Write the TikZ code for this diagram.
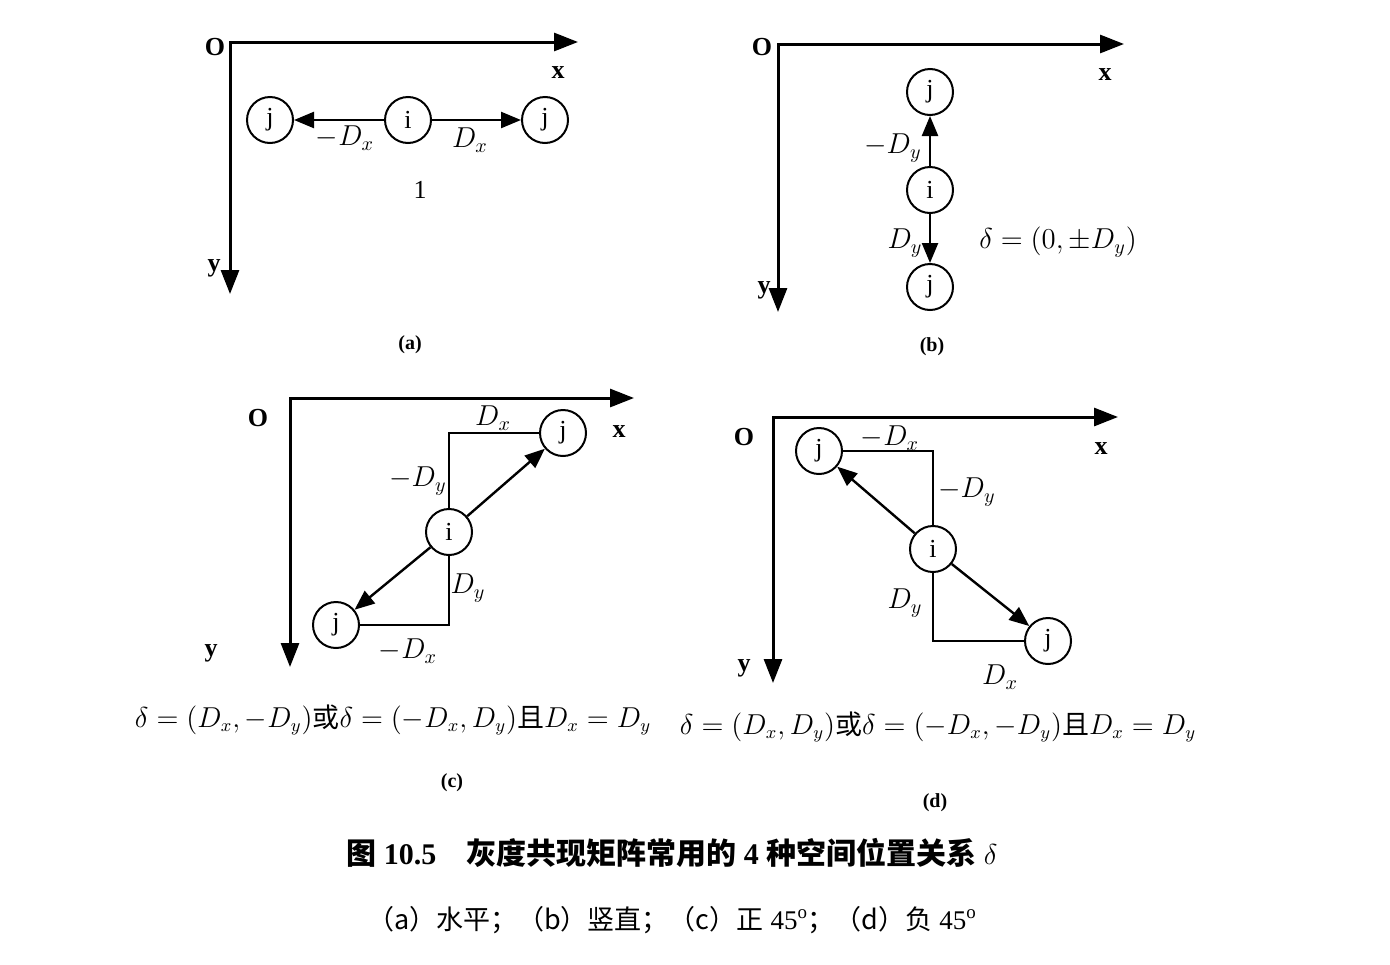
\documentclass[tikz,border=0pt]{standalone}
\usepackage{fontspec}
\setmainfont{Liberation Serif}
\newfontfamily\cjk{Noto Sans CJK SC}
\usetikzlibrary{arrows.meta}

\begin{document}
\begin{tikzpicture}[x=0.5pt,y=-0.5pt,
  every node/.style={font=\fontsize{13}{15}\selectfont},
  pix/.style={draw,circle,line width=1pt,minimum size=23pt,inner sep=0pt},
  axis/.style={line width=1.5pt,{Triangle[length=12pt,width=9pt]}-{Triangle[length=12pt,width=9pt]}},
  link/.style={line width=1.2pt,-{Triangle[length=10pt,width=8pt]}},
  leg/.style={line width=1.2pt},
  ax/.style={font=\fontsize{13}{15}\selectfont\bfseries},
  lbl/.style={font=\fontsize{14}{16}\selectfont},
  eqn/.style={font=\fontsize{13.5}{16}\selectfont},
  sub/.style={font=\fontsize{10}{12}\selectfont\bfseries},
  captxt/.style={font=\fontsize{15}{18}\selectfont},
  parttxt/.style={font=\fontsize{13.5}{16}\selectfont}]
\useasboundingbox (0,0) rectangle (1390,964);

% (a) horizontal
\coordinate (aO) at (230,42);
\coordinate (aX) at (578,42);
\coordinate (aY) at (230,294);
\draw[axis] (aX) -- (aO) -- (aY);
\node[ax] (aOl) at (215,47) {O};
\node[ax] (axl) at (558,73) {x};
\node[ax] (ayl) at (214,268) {y};
\node[pix] (ai) at (408,120) {i};
\node[pix] (aj1) at (270,120) {j};
\node[pix] (aj2) at (545,120) {j};
\draw[link] (ai) -- (aj1);
\draw[link] (ai) -- (aj2);
\node[lbl] (adxm) at (345,138) {$-D_x$};
\node[lbl] (adx) at (470,140) {$D_x$};
\node (aone) at (420,190) {1};
\node[sub] (acap) at (410,345) {(a)};

% (b) vertical
\coordinate (bO) at (778,44);
\coordinate (bX) at (1124,44);
\coordinate (bY) at (778,312);
\draw[axis] (bX) -- (bO) -- (bY);
\node[ax] (bOl) at (762,47) {O};
\node[ax] (bxl) at (1105,75) {x};
\node[ax] (byl) at (764,290) {y};
\node[pix] (bi) at (930,190) {i};
\node[pix] (bj1) at (930,92) {j};
\node[pix] (bj2) at (930,287) {j};
\draw[link] (bi) -- (bj1);
\draw[link] (bi) -- (bj2);
\node[lbl] (bdym) at (893,148) {$-D_y$};
\node[lbl] (bdy) at (905,243) {$D_y$};
\node[lbl] (beq) at (1058,242) {$\delta=(0,\pm D_y)$};
\node[sub] (bcap) at (932,347) {(b)};

% (c) +45
\coordinate (cO) at (290,398);
\coordinate (cX) at (634,398);
\coordinate (cY) at (290,667);
\draw[axis] (cX) -- (cO) -- (cY);
\node[ax] (cOl) at (258,418) {O};
\node[ax] (cxl) at (619,432) {x};
\node[ax] (cyl) at (211,653) {y};
\node[pix] (ci) at (449,532) {i};
\node[pix] (cj1) at (563,433) {j};
\node[pix] (cj2) at (336,625) {j};
\draw[leg] (ci) |- (cj1);
\draw[leg] (ci) |- (cj2);
\draw[link] (ci) -- (cj1);
\draw[link] (ci) -- (cj2);
\node[lbl] (cdx) at (493,418) {$D_x$};
\node[lbl] (cdym) at (418,481) {$-D_y$};
\node[lbl] (cdy) at (468,588) {$D_y$};
\node[lbl] (cdxm) at (408,651) {$-D_x$};
\node[eqn] (ceq) at (393,720) {$\delta=(D_x,-D_y)${\cjk 或}$\delta=(-D_x,D_y)${\cjk 且}$D_x=D_y$};
\node[sub] (ccap) at (452,783) {(c)};

% (d) -45
\coordinate (dO) at (773,417);
\coordinate (dX) at (1118,417);
\coordinate (dY) at (773,683);
\draw[axis] (dX) -- (dO) -- (dY);
\node[ax] (dOl) at (744,437) {O};
\node[ax] (dxl) at (1101,449) {x};
\node[ax] (dyl) at (744,668) {y};
\node[pix] (di) at (933,549) {i};
\node[pix] (dj1) at (819,451) {j};
\node[pix] (dj2) at (1048,641) {j};
\draw[leg] (di) |- (dj1);
\draw[leg] (di) |- (dj2);
\draw[link] (di) -- (dj1);
\draw[link] (di) -- (dj2);
\node[lbl] (ddxm) at (890,438) {$-D_x$};
\node[lbl] (ddym) at (967,492) {$-D_y$};
\node[lbl] (ddy) at (905,603) {$D_y$};
\node[lbl] (ddx) at (1000,677) {$D_x$};
\node[eqn] (deq) at (938,727) {$\delta=(D_x,D_y)${\cjk 或}$\delta=(-D_x,-D_y)${\cjk 且}$D_x=D_y$};
\node[sub] (dcap) at (935,803) {(d)};

% caption
\node[captxt] (title) at (672,853) {{\cjk\bfseries 图}~\textbf{10.5}\quad{\cjk\bfseries 灰度共现矩阵常用的}~\textbf{4}~{\cjk\bfseries 种空间位置关系}~$\delta$};
\node[parttxt] (parts) at (672,920) {{\cjk （a）水平；（b）竖直；（c）正}~45\textsuperscript{o}{\cjk ；（d）负}~45\textsuperscript{o}};
\end{tikzpicture}
\end{document}
